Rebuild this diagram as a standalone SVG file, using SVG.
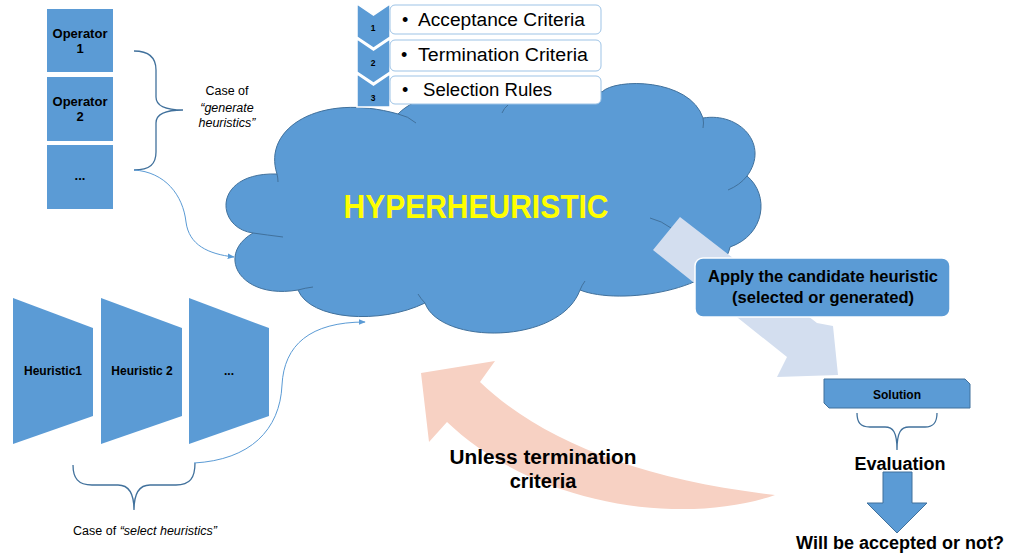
<svg xmlns="http://www.w3.org/2000/svg" width="1010" height="554" viewBox="0 0 1010 554">
<defs>
<style>
.blue{fill:#5B9BD5}
.bstroke{fill:#5B9BD5;stroke:#41719C;stroke-width:1}
.t{font-family:"Liberation Sans",Arial,sans-serif;fill:#000}
.b{font-weight:bold}
.c{text-anchor:middle}
.brace{fill:none;stroke:#41719C;stroke-width:1.3}
.conn{fill:none;stroke:#5B9BD5;stroke-width:1}
.inner{fill:none;stroke:#41719C;stroke-width:1}
.chev{fill:#5B9BD5;stroke:#fff;stroke-width:1.5}
.lbox{fill:#fff;stroke:#9DC3E6;stroke-width:1}
</style>
<marker id="ah" viewBox="0 0 10 10" refX="9" refY="5" markerWidth="7" markerHeight="7" orient="auto" markerUnits="userSpaceOnUse">
<path d="M0,1 L10,5 L0,9 Z" fill="#5B9BD5"/>
</marker>
</defs>
<rect width="1010" height="554" fill="#fff"/>

<g id="operator1"><rect x="47" y="9" width="66" height="63" class="blue"/><text class="t b c" x="80" y="38" font-size="13">Operator</text><text class="t b c" x="80" y="53" font-size="13">1</text></g>
<g id="operator2"><rect x="47" y="77" width="66" height="64" class="blue"/><text class="t b c" x="80" y="106" font-size="13">Operator</text><text class="t b c" x="80" y="121" font-size="13">2</text></g>
<g id="operator3"><rect x="47" y="145" width="66" height="64" class="blue"/><text class="t b c" x="80" y="180" font-size="13">...</text></g>

<g id="generate-label"><text class="t c" x="227" y="95" font-size="12.5">Case of</text><text class="t c" x="227" y="112" font-size="12.5" font-style="italic">“generate</text><text class="t c" x="227" y="127" font-size="12.5" font-style="italic">heuristics”</text></g>

<g id="heuristic1"><polygon points="13,298 93,328 93,416 13,444" class="blue"/><text class="t b c" x="53" y="375" font-size="12">Heuristic1</text></g>
<g id="heuristic2"><polygon points="101,298 182,328 182,416 101,444" class="blue"/><text class="t b c" x="142" y="375" font-size="12">Heuristic 2</text></g>
<g id="heuristic3"><polygon points="189,298 269,328 269,416 189,444" class="blue"/><text class="t b c" x="229" y="375" font-size="12">...</text></g>

<g id="select-label"><text class="t c" x="145" y="535" font-size="12.5">Case of <tspan font-style="italic">“select heuristics”</tspan></text></g>

<g id="cloud">
<path d="M277,174 C262,128 320,92 398,114 C430,80 560,70 602,92 C615,78 690,78 703,118 C740,112 770,145 747,176 C770,195 765,235 730,247 C722,290 620,306 580,290 C560,345 440,345 425,303 C380,325 310,320 298,290 C240,300 215,255 253,233 C215,228 212,172 277,174 Z" fill="#5B9BD5" stroke="#41719C" stroke-width="1"/>
<path class="inner" d="M398,114 Q408,116 416,123"/>
<path class="inner" d="M502,113 Q504,108 508,105"/>
<path class="inner" d="M703,118 Q704,123 703,128"/>
<path class="inner" d="M747,176 Q740,185 728,190"/>
<path class="inner" d="M650,218 Q662,221 671,228"/>
<path class="inner" d="M580,290 Q582,285 585,281"/>
<path class="inner" d="M425,303 Q421,299 418,294"/>
<path class="inner" d="M298,290 Q305,288 313,287"/>
<path class="inner" d="M253,233 Q267,235 283,237"/>
<path class="inner" d="M277,174 Q278,178 278,182"/>
<text class="c" x="476" y="218" font-family="'Liberation Sans',Arial,sans-serif" font-weight="bold" font-size="33" fill="#FFFF00" textLength="265" lengthAdjust="spacingAndGlyphs">HYPERHEURISTIC</text>
</g>

<g id="connectors">
<path class="brace" d="M134,51 C150,51 156,58 156,70 L156,97 C156,106 166,110 183,110 C166,110 156,114 156,123 L156,152 C156,164 150,170 134,170"/>
<path class="conn" d="M134,170 C165,172 183,195 186,222 C189,245 208,254 234,257" marker-end="url(#ah)"/>
<path class="brace" d="M73,465 C73,478 78,485 92,485 L118,485 C128,485 134,492 134,510 C134,492 140,485 150,485 L176,485 C190,485 195,478 195,463"/>
<path class="conn" d="M194,463 C250,460 280,430 282,385 C284,345 310,322 365,322" marker-end="url(#ah)"/>
<path class="brace" d="M857,413 C857,422 860,427 870,427 L885,427 C893,427 897,432 897,450 C897,432 901,427 909,427 L925,427 C934,427 937,422 937,413"/>
</g>

<g id="list1"><polygon class="chev" points="357,4 373.5,15 390,4 390,37 373.5,48 357,37"/><rect class="lbox" x="390" y="5" width="211" height="29" rx="5"/><text class="t b c" x="373" y="31" font-size="8.5">1</text><text class="t" x="402" y="26" font-size="18">•</text><text class="t" x="418" y="26" font-size="18" textLength="167" lengthAdjust="spacingAndGlyphs">Acceptance Criteria</text></g>
<g id="list2"><polygon class="chev" points="357,39 373.5,50 390,39 390,72 373.5,83 357,72"/><rect class="lbox" x="390" y="40" width="211" height="31" rx="5"/><text class="t b c" x="373" y="66" font-size="8.5">2</text><text class="t" x="401" y="61" font-size="18">•</text><text class="t" x="418" y="61" font-size="18" textLength="170" lengthAdjust="spacingAndGlyphs">Termination Criteria</text></g>
<g id="list3"><polygon class="chev" points="357,74 373.5,85 390,74 390,107 357,107"/><rect class="lbox" x="390" y="76" width="211" height="28" rx="5"/><text class="t b c" x="373" y="101" font-size="8.5">3</text><text class="t" x="402" y="96" font-size="18">•</text><text class="t" x="423" y="96" font-size="18" textLength="129" lengthAdjust="spacingAndGlyphs">Selection Rules</text></g>

<g id="apply-arrow"><polygon points="680,217 817,323 833,326 838,375 777,377 787,357 653,250" fill="#D3DEEF"/></g>

<g id="apply"><rect x="695" y="258" width="255" height="59" rx="8" fill="#5B9BD5" stroke="#fff" stroke-width="1.5"/><text class="t b c" x="823" y="282" font-size="16.5" textLength="230" lengthAdjust="spacingAndGlyphs">Apply the candidate heuristic</text><text class="t b c" x="823" y="303" font-size="16.5" textLength="182" lengthAdjust="spacingAndGlyphs">(selected or generated)</text></g>

<g id="loop-arrow"><path d="M421,373 L495,361 L480,382 C540,440 640,480 775,495 C690,525 540,510 447,422 L429,442 Z" fill="#F7D1C3"/><text class="t b c" x="543" y="464" font-size="20" textLength="187" lengthAdjust="spacingAndGlyphs">Unless termination</text><text class="t b c" x="543" y="488" font-size="20">criteria</text></g>

<g id="solution"><path d="M824,379 L965,379 L970,384 L970,408 L829,408 L824,403 Z" class="bstroke"/><text class="t b c" x="897" y="399" font-size="12">Solution</text></g>

<g id="evaluation"><text class="t b c" x="900" y="470" font-size="18">Evaluation</text><path d="M883,472 L912,472 L912,503 L927,503 L897,533 L867,503 L883,503 Z" class="bstroke"/><text class="t b c" x="900" y="549" font-size="18">Will be accepted or not?</text></g>
</svg>
